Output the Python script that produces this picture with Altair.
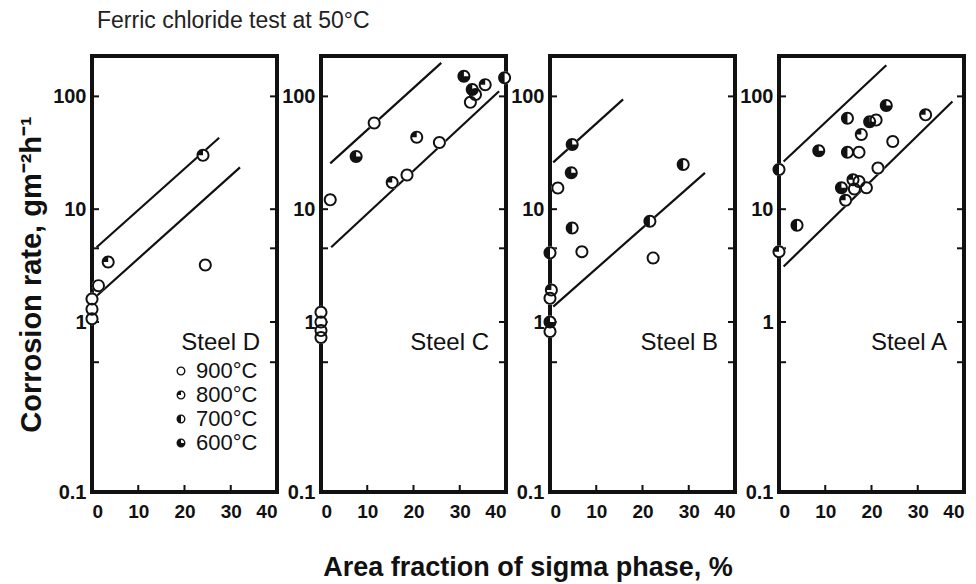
import altair as alt
import pandas as pd

FONT = "Liberation Sans"
INK = "#111111"
W, H = 185, 436
GAP = 44

TEMPS = ["900°C", "800°C", "700°C", "600°C"]
STEELS = ["Steel D", "Steel C", "Steel B", "Steel A"]
TITLE = "Ferric chloride test at 50°C"
X_TITLE = "Area fraction of sigma phase, %"
Y_TITLE = "Corrosion rate, gm⁻²h⁻¹"

X_LABELS = [0, 10, 20, 30, 40]
X_INNER_TICKS = [10, 20, 30]
Y_LABELS = [0.1, 1, 10, 100]
Y_INNER_TICKS = [0.58, 1, 4.5, 10, 100]

# ---- Steel D ----
D_X = [24.0, 3.5, 24.5, 1.4, 0.0, 0.0, 0.0]
D_Y = [30.0, 3.4, 3.2, 2.1, 1.6, 1.3, 1.07]
D_T = ["800°C", "800°C", "900°C", "900°C", "900°C", "900°C", "900°C"]
D_UP_X, D_UP_Y = [1.0, 27.5], [4.6, 43.0]
D_LO_X, D_LO_Y = [1.0, 32.0], [1.7, 23.5]

# ---- Steel C ----
C_X = [30.9, 35.5, 32.7, 33.4, 32.3, 39.7, 11.5, 20.7, 25.6, 7.6, 18.6, 15.4, 2.0, 0.0, 0.0, 0.0, 0.0]
C_Y = [151, 127, 115, 104, 88.5, 146, 58, 43.5, 39, 29.3, 20.1, 17.2, 12.1, 1.22, 1.0, 0.89, 0.81]
C_T = ["600°C", "800°C", "600°C", "900°C", "900°C", "700°C", "900°C", "800°C", "900°C",
       "600°C", "900°C", "800°C", "900°C", "900°C", "900°C", "900°C", "900°C"]
C_UP_X, C_UP_Y = [2.0, 26.0], [25.5, 198.0]
C_LO_X, C_LO_Y = [2.2, 38.5], [4.6, 111.0]

# ---- Steel B ----
B_X = [4.8, 4.6, 1.7, 28.8, 21.6, 4.8, 6.9, 22.3, 0.0, 0.3, 0.0, 0.0, 0.0]
B_Y = [37.4, 21.0, 15.4, 24.9, 7.8, 6.8, 4.2, 3.7, 4.1, 1.92, 1.62, 1.0, 0.88]
B_T = ["600°C", "600°C", "900°C", "700°C", "700°C", "700°C", "900°C", "900°C",
       "700°C", "800°C", "900°C", "600°C", "900°C"]
B_UP_X, B_UP_Y = [0.7, 15.8], [26.0, 94.0]
B_LO_X, B_LO_Y = [0.7, 33.5], [1.37, 21.0]

# ---- Steel A ----
A_X = [0.0, 0.0, 3.9, 8.6, 14.8, 23.2, 31.7, 19.6, 21.0, 17.8, 14.8, 17.3, 24.6, 21.4,
       13.5, 16.0, 17.3, 18.9, 14.4, 16.3]
A_Y = [22.5, 4.2, 7.2, 33.0, 64.0, 83.0, 68.6, 59.7, 61.6, 46.0, 31.9, 31.9, 39.8, 23.2,
       15.5, 18.2, 17.6, 15.5, 12.0, 15.1]
A_T = ["700°C", "800°C", "700°C", "600°C", "700°C", "600°C", "800°C", "600°C", "900°C",
       "800°C", "700°C", "900°C", "900°C", "900°C", "600°C", "800°C", "900°C", "900°C",
       "800°C", "900°C"]
A_UP_X, A_UP_Y = [1.0, 23.2], [26.5, 189.0]
A_LO_X, A_LO_Y = [1.0, 37.5], [3.1, 90.0]

PANELS = [
    (D_X, D_Y, D_T, D_UP_X, D_UP_Y, D_LO_X, D_LO_Y),
    (C_X, C_Y, C_T, C_UP_X, C_UP_Y, C_LO_X, C_LO_Y),
    (B_X, B_Y, B_T, B_UP_X, B_UP_Y, B_LO_X, B_LO_Y),
    (A_X, A_Y, A_T, A_UP_X, A_UP_Y, A_LO_X, A_LO_Y),
]

# marker glyphs: ring plus a filled portion depending on temperature
RING = ("M0,-1A1,1,0,1,1,0,1A1,1,0,1,1,0,-1Z "
        "M0,-0.7A0.7,0.7,0,1,0,0,0.7A0.7,0.7,0,1,0,0,-0.7Z")
SHAPES = [
    RING,
    RING + " M0,0L-0.7,0A0.7,0.7,0,0,1,0,-0.7Z",
    RING + " M0,-0.7A0.7,0.7,0,0,0,0,0.7Z",
    RING + " M0,0L0,-0.7A0.7,0.7,0,1,0,0.7,0Z",
]

xsc = alt.Scale(domain=[0, 40], nice=False, zero=False)
ysc = alt.Scale(type="log", domain=[0.1, 1, 228], range=[H, 266, 0], nice=False)


def make_panel(k):
    xs, ys, ts, ux, uy, lx, ly = PANELS[k]
    pts = pd.DataFrame({"x": xs, "y": ys, "t": ts})
    lines = pd.DataFrame({"x": ux + lx, "y": uy + ly,
                          "g": ["upper"] * len(ux) + ["lower"] * len(lx)})

    xaxis = alt.Axis(values=X_LABELS, ticks=False, domain=False, grid=False,
                     labelFont=FONT, labelFontSize=19, labelFontWeight="bold",
                     labelColor=INK, labelPadding=10, title=None)
    ykw = dict(values=Y_LABELS, format="~g", ticks=False, domain=False, grid=False,
               labelFont=FONT, labelFontSize=20, labelFontWeight="bold",
               labelColor=INK, labelPadding=6)
    if k == 0:
        ykw.update(title=Y_TITLE, titleFont=FONT, titleFontSize=29,
                   titleFontWeight="bold", titleColor=INK, titleAngle=270,
                   titleAlign="center", titleBaseline="middle",
                   titleX=-61, titleY=H / 2)
    else:
        ykw.update(title=None)
    yaxis = alt.Axis(**ykw)

    X = alt.X("x:Q", scale=xsc, axis=xaxis)
    Y = alt.Y("y:Q", scale=ysc, axis=yaxis)

    line_layer = alt.Chart(lines).mark_line(color=INK, strokeWidth=2.2).encode(
        x=X, y=Y, detail="g:N")

    yt = pd.DataFrame({"y": Y_INNER_TICKS})
    lt = alt.Chart(yt).mark_rule(color=INK, strokeWidth=2).encode(
        y=Y, x=alt.value(0), x2=alt.value(7))
    rt = alt.Chart(yt).mark_rule(color=INK, strokeWidth=2).encode(
        y=Y, x=alt.value(W - 7), x2=alt.value(W))
    xt = pd.DataFrame({"x": X_INNER_TICKS})
    bt = alt.Chart(xt).mark_rule(color=INK, strokeWidth=2).encode(
        x=X, y=alt.value(H), y2=alt.value(H - 7))

    bg = alt.Chart(pts).mark_point(shape="circle", filled=True, color="white",
                                   opacity=1, size=169, strokeWidth=0).encode(x=X, y=Y)

    if k == 0:
        leg = alt.Legend(orient="none", legendX=78, legendY=304, title=None,
                         padding=0, symbolSize=81, symbolFillColor=INK,
                         symbolStrokeColor=INK, symbolStrokeWidth=0, symbolOpacity=1,
                         labelFont=FONT, labelFontSize=22, labelColor=INK,
                         labelOffset=4, rowPadding=2)
    else:
        leg = None
    glyph = alt.Chart(pts).mark_point(filled=True, color=INK, opacity=1, size=169,
                                      strokeWidth=0).encode(
        x=X, y=Y,
        shape=alt.Shape("t:N", scale=alt.Scale(domain=TEMPS, range=SHAPES), legend=leg))

    lab = alt.Chart(pd.DataFrame({"s": [STEELS[k]]})).mark_text(
        align="right", baseline="middle", font=FONT, fontSize=24, color=INK).encode(
        text="s:N", x=alt.value(W - 17), y=alt.value(287))

    layers = [line_layer, lt, rt, bt, bg, glyph, lab]
    if k == 0:
        layers.append(alt.Chart(pd.DataFrame({"s": [TITLE]})).mark_text(
            align="left", baseline="middle", font=FONT, fontSize=23, color="#222222").encode(
            text="s:N", x=alt.value(5), y=alt.value(-35)))
    if k == 2:
        layers.append(alt.Chart(pd.DataFrame({"s": [X_TITLE]})).mark_text(
            align="center", baseline="middle", font=FONT, fontSize=27, fontWeight="bold",
            color=INK).encode(
            text="s:N", x=alt.value((W * 4 + GAP * 3) / 2 - 2 * (W + GAP)), y=alt.value(512)))
    return alt.layer(*layers).properties(width=W, height=H)


chart = alt.hconcat(*[make_panel(k) for k in range(4)], spacing=GAP, bounds="flush") \
    .resolve_scale(shape="independent") \
    .resolve_legend(shape="independent") \
    .configure_view(stroke=INK, strokeWidth=4) \
    .properties(padding={"left": 14, "top": 8, "right": 0, "bottom": 0},
                background="white")

chart.save("out.html", embed_options={"renderer": "svg", "actions": False})
